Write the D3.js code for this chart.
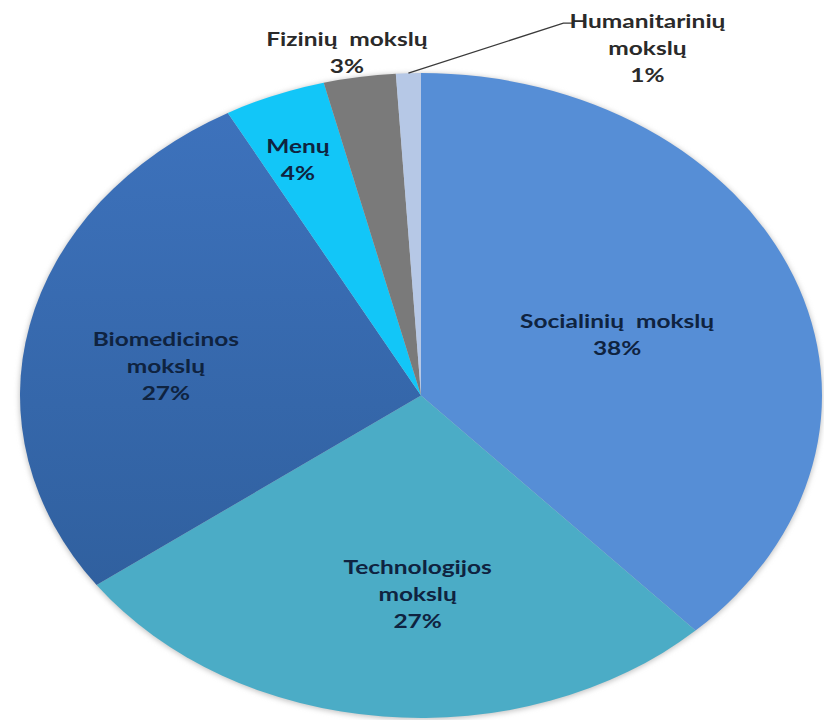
<!DOCTYPE html>
<html><head><meta charset="utf-8">
<script src="https://cdn.jsdelivr.net/npm/d3@7"></script>
<style>
body{margin:0;background:#fff}
svg{display:block}
text{font-family:Lato,"Open Sans",sans-serif;font-weight:700;white-space:pre}
</style>
</head><body>
<svg id="chart" width="824" height="720"></svg>
<script>
// ---- data ----
const categories = ["Socialinių mokslų", "Technologijos mokslų", "Biomedicinos mokslų", "Menų", "Fizinių mokslų", "Humanitarinių mokslų"];
const values = [38.0, 27.0, 27.0, 4.1, 2.9, 1.0];
const labelLines = [["Socialinių  mokslų"], ["Technologijos", "mokslų"], ["Biomedicinos", "mokslų"], ["Menų"], ["Fizinių  mokslų"], ["Humanitarinių", "mokslų"]];

// ---- styles / layout ----
const colors = ["#568ED6", "#4BACC6", "#3A6CB4", "#12C6F8", "#7A7A7A", "#B6C8E6"];
const cx = 421, cy = 395.5, rx = 401, ry = 322.5;
const fontSize = 18, stretch = 1.36, lineH = 27;
const labelLayout = [
  {f: 0.526, dx: 0, dy: 2},
  {f: 0.62, dx: 20, dy: 0},
  {f: 0.652, dx: 0, dy: 16.6},
  {f: 0.786, dx: -8, dy: 0},
  {f: 1.076, dx: -8, dy: 0},
  {f: 1.0, dx: 239, dy: -25, leader: [[155, -50], [165, -50]]}
];

const svg = d3.select("#chart");
const defs = svg.append("defs");
const flt = defs.append("filter").attr("id", "soft").attr("x", "-5%").attr("y", "-5%").attr("width", "110%").attr("height", "110%");
flt.append("feGaussianBlur").attr("stdDeviation", 2.5);
const grad = defs.append("linearGradient").attr("id", "bioGrad").attr("x1", 0).attr("y1", 0).attr("x2", 0).attr("y2", 1);
grad.append("stop").attr("offset", "0%").attr("stop-color", "#3D72BC");
grad.append("stop").attr("offset", "100%").attr("stop-color", "#30609F");

const total = d3.sum(values);
const pie = d3.pie().sort(null).value(d => d)(values);
const arc = d3.arc().innerRadius(0).outerRadius(ry);

// soft edge shadow
svg.append("ellipse").attr("cx", cx).attr("cy", cy + 1).attr("rx", rx + 1).attr("ry", ry + 1)
  .attr("fill", "#c9c9c9").attr("filter", "url(#soft)");

const g = svg.append("g").attr("transform", `translate(${cx},${cy}) scale(${rx / ry},1)`);
g.selectAll("path").data(pie).join("path")
  .attr("d", arc)
  .attr("fill", (d, i) => i === 2 ? "url(#bioGrad)" : colors[i]);

function pt(angle, f) {
  return [cx + rx * f * Math.sin(angle), cy - ry * f * Math.cos(angle)];
}

const labels = svg.append("g");
pie.forEach((d, i) => {
  const mid = (d.startAngle + d.endAngle) / 2;
  const L = labelLayout[i];
  const [ax, ay] = pt(mid, L.f);
  const lx = ax + L.dx, ly = ay + L.dy;
  const inside = L.f < 1;
  if (L.leader) {
    const pts = [[ax, ay]].concat(L.leader.map(o => [ax + o[0], ay + o[1]]));
    labels.append("path").attr("d", d3.line()(pts)).attr("fill", "none")
      .attr("stroke", "#3a3a3a").attr("stroke-width", 1.3);
  }
  const lines = labelLines[i].concat([Math.round(values[i] / total * 100) + "%"]);
  const n = lines.length;
  const tg = labels.append("g").attr("transform", `translate(${lx},0) scale(${stretch},1)`);
  lines.forEach((t, k) => {
    tg.append("text")
      .attr("x", 0)
      .attr("y", ly - (n - 1) * lineH / 2 + k * lineH + 6.5)
      .attr("text-anchor", "middle")
      .attr("font-size", fontSize)
      .attr("fill", inside ? "#0f2340" : "#2a2a2a")
      .text(t);
  });
});
</script>
</body></html>
